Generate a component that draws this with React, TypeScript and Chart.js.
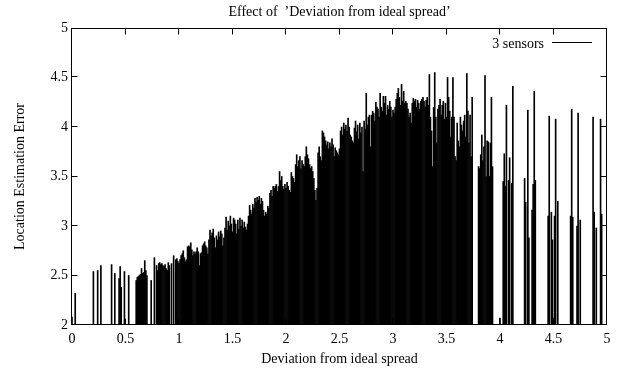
import React, { useEffect, useRef } from "react";
import { Chart, registerables } from "chart.js";

Chart.register(...registerables);

const chartTitle = "Effect of  \u2019Deviation from ideal spread\u2019";
const xAxisTitle = "Deviation from ideal spread";
const yAxisTitle = "Location Estimation Error";
const seriesLabel = "3 sensors";

const xTickValues = [0, 0.5, 1, 1.5, 2, 2.5, 3, 3.5, 4, 4.5, 5];
const xTickLabels = ["0", "0.5", "1", "1.5", "2", "2.5", "3", "3.5", "4", "4.5", "5"];
const yTickValues = [2, 2.5, 3, 3.5, 4, 4.5, 5];
const yTickLabels = ["2", "2.5", "3", "3.5", "4", "4.5", "5"];

// x positions of the impulses (deviation from ideal spread)
const deviation = [
  0.00, 0.03, 0.20, 0.24, 0.27, 0.37, 0.40, 0.44, 0.45, 0.46, 0.49, 0.53,
  0.60, 0.61, 0.62, 0.63, 0.64, 0.65, 0.66, 0.67, 0.68, 0.69, 0.70, 0.74, 0.77,
  0.79, 0.80, 0.81, 0.82, 0.83, 0.84, 0.85, 0.86, 0.87, 0.88, 0.89, 0.90, 0.91, 0.93, 0.95, 0.97, 0.98,
  0.99, 1.00, 1.01, 1.02, 1.03, 1.04, 1.05, 1.06, 1.07, 1.08,
  1.09, 1.10, 1.11, 1.12, 1.13, 1.14, 1.15, 1.16, 1.17, 1.18,
  1.19, 1.20, 1.21, 1.22, 1.23, 1.24, 1.25, 1.26, 1.27, 1.28,
  1.29, 1.30, 1.31, 1.32, 1.33, 1.34, 1.35, 1.36, 1.37, 1.38,
  1.39, 1.40, 1.41, 1.42, 1.43, 1.44, 1.45, 1.46, 1.47, 1.48,
  1.49, 1.50, 1.51, 1.52, 1.53, 1.54, 1.55, 1.56, 1.57, 1.58,
  1.59, 1.60, 1.61, 1.62, 1.63, 1.64, 1.65, 1.66, 1.67, 1.68,
  1.69, 1.70, 1.71, 1.72, 1.73, 1.74, 1.75, 1.76, 1.77, 1.78,
  1.79, 1.80, 1.81, 1.82, 1.83, 1.84, 1.85, 1.86, 1.87, 1.88,
  1.89, 1.90, 1.91, 1.92, 1.93, 1.94, 1.95, 1.96, 1.97, 1.98,
  1.99, 2.00, 2.01, 2.02, 2.03, 2.04, 2.05, 2.06, 2.07, 2.08,
  2.09, 2.10, 2.11, 2.12, 2.13, 2.14, 2.15, 2.16, 2.17, 2.18,
  2.19, 2.20, 2.21, 2.22, 2.23, 2.24, 2.25, 2.26, 2.27, 2.28,
  2.29, 2.30, 2.31, 2.32, 2.33, 2.34, 2.35, 2.36, 2.37, 2.38,
  2.39, 2.40, 2.41, 2.42, 2.43, 2.44, 2.45, 2.46, 2.47, 2.48,
  2.49, 2.50, 2.51, 2.52, 2.53, 2.54, 2.55, 2.56, 2.57, 2.58,
  2.59, 2.60, 2.61, 2.62, 2.63, 2.64, 2.65, 2.66, 2.67, 2.68,
  2.69, 2.70, 2.71, 2.72, 2.73, 2.74, 2.75, 2.76, 2.77, 2.78,
  2.79, 2.80, 2.81, 2.82, 2.83, 2.84, 2.85, 2.86, 2.87, 2.88,
  2.89, 2.90, 2.91, 2.92, 2.93, 2.94, 2.95, 2.96, 2.97, 2.98,
  2.99, 3.00, 3.01, 3.02, 3.03, 3.04, 3.05, 3.06, 3.07, 3.08,
  3.09, 3.10, 3.11, 3.12, 3.13, 3.14, 3.15, 3.16, 3.17, 3.18,
  3.19, 3.20, 3.21, 3.22, 3.23, 3.24, 3.25, 3.26, 3.27, 3.28,
  3.29, 3.30, 3.31, 3.32, 3.33, 3.34, 3.35, 3.36, 3.37, 3.38,
  3.39, 3.40, 3.41, 3.42, 3.43, 3.44, 3.45, 3.46, 3.47, 3.48,
  3.49, 3.50, 3.51, 3.52, 3.53, 3.54, 3.55, 3.56, 3.57, 3.58,
  3.59, 3.60, 3.61, 3.62, 3.63, 3.64, 3.65, 3.66, 3.67, 3.68,
  3.69, 3.70, 3.71, 3.72, 3.73, 3.74,
  3.80, 3.81, 3.82, 3.83, 3.84, 3.85, 3.86, 3.87, 3.88, 3.89, 3.90, 3.91, 3.92, 3.93,
  4.00, 4.03, 4.04, 4.05, 4.06, 4.08, 4.09, 4.11, 4.12,
  4.23, 4.24, 4.26, 4.27, 4.30, 4.31, 4.32, 4.33,
  4.45, 4.46, 4.48, 4.49, 4.50, 4.51, 4.52, 4.54,
  4.66, 4.67, 4.68, 4.72, 4.73, 4.75,
  4.87, 4.88, 4.90, 4.94, 4.95,
];

// impulse heights (location estimation error)
const locationError = [
  2.08, 2.32, 2.54, 2.55, 2.60, 2.61, 2.52, 2.47, 2.59, 2.38, 2.54, 2.50,
  2.45, 2.48, 2.49, 2.50, 2.51, 2.57, 2.52, 2.53, 2.65, 2.55, 2.50, 2.45, 2.68,
  2.60, 2.55, 2.62, 2.63, 2.61, 2.62, 2.60, 2.59, 2.61, 2.57, 2.55, 2.63, 2.60, 2.62, 2.70, 2.66, 2.67,
  2.64, 2.62, 2.66, 2.70, 2.72, 2.75, 2.68, 2.64, 2.66, 2.79,
  2.80, 2.79, 2.83, 2.76, 2.70, 2.74, 2.72, 2.74, 2.78, 2.74,
  2.60, 2.72, 2.73, 2.80, 2.82, 2.84, 2.80, 2.78, 2.72, 2.86,
  2.96, 2.90, 2.93, 2.97, 2.88, 2.78, 2.90, 2.86, 2.94, 2.89,
  2.95, 2.92, 2.80, 2.88, 2.98, 3.09, 2.96, 3.05, 3.00, 3.10,
  3.02, 2.94, 3.08, 3.06, 3.02, 2.92, 3.06, 2.97, 3.08, 3.00,
  3.06, 2.98, 3.04, 2.99, 2.96, 3.02, 3.10, 3.21, 3.16, 3.12,
  3.22, 3.18, 3.28, 3.24, 3.29, 3.26, 3.30, 3.22, 3.28, 3.25,
  3.16, 3.10, 3.14, 3.12, 3.20, 3.18, 3.33, 3.36, 3.30, 3.40,
  3.38, 3.40, 3.42, 3.35, 3.40, 3.55, 3.46, 3.50, 3.40, 3.37,
  3.42, 3.38, 3.44, 3.40, 3.36, 3.34, 3.54, 3.50, 3.48, 3.44,
  3.62, 3.72, 3.60, 3.66, 3.70, 3.58, 3.66, 3.62, 3.60, 3.70,
  3.80, 3.72, 3.68, 3.62, 3.58, 3.60, 3.55, 3.48, 3.36, 3.26,
  3.38, 3.74, 3.80, 3.70, 3.66, 3.96, 3.94, 3.90, 3.86, 3.82,
  3.85, 3.78, 3.84, 3.80, 3.88, 3.82, 3.70, 3.79, 3.76, 3.74,
  3.72, 3.78, 3.96, 4.00, 3.92, 4.04, 3.98, 4.02, 3.96, 4.09,
  4.00, 3.92, 3.90, 3.86, 3.84, 3.99, 4.06, 3.95, 4.02, 3.88,
  4.04, 3.94, 4.00, 3.55, 4.06, 3.98, 4.34, 4.02, 4.10, 4.12,
  3.80, 4.12, 4.16, 4.14, 4.06, 4.25, 4.20, 4.18, 4.10, 4.34,
  4.20, 4.16, 4.31, 4.24, 4.31, 4.12, 4.22, 4.18, 4.26, 4.20,
  4.10, 4.17, 4.14, 4.20, 4.28, 4.34, 4.39, 4.30, 4.22, 4.43,
  4.26, 4.36, 4.24, 4.26, 4.24, 4.18, 4.10, 4.14, 4.04, 4.24,
  4.29, 4.26, 4.28, 4.20, 4.27, 4.24, 4.18, 4.26, 4.28, 4.30,
  4.26, 4.20, 4.27, 4.30, 4.22, 4.53, 4.10, 3.96, 3.60, 4.20,
  4.55, 4.10, 3.84, 4.18, 4.22, 4.28, 4.12, 4.22, 4.26, 4.08,
  4.24, 4.10, 4.50, 4.30, 4.16, 3.90, 4.10, 4.50, 4.10, 3.70,
  3.66, 4.04, 3.86, 3.80, 4.10, 4.02, 3.96, 4.06, 4.12, 3.90,
  4.54, 4.16, 3.84, 4.12, 3.70, 4.30,
  3.60, 3.58, 3.72, 3.92, 3.66, 3.80, 4.52, 3.50, 3.86, 3.85, 3.50, 3.84, 4.30, 3.60,
  2.07, 3.45, 3.73, 3.40, 4.22, 3.46, 3.69, 3.43, 4.41,
  3.48, 3.24, 4.17, 2.88, 3.16, 3.42, 4.36, 3.46,
  3.10, 4.11, 3.14, 2.86, 2.07, 3.10, 4.08, 3.25,
  3.10, 4.18, 3.09, 3.00, 4.14, 3.06,
  4.10, 3.14, 2.98, 4.08, 3.12,
];

const FONT = "'Liberation Serif', 'Times New Roman', serif";

const framePlugin = {
  id: "gnuplotFrame",
  afterDatasetsDraw(chart: any) {
    const { ctx, chartArea: a, scales } = chart;
    ctx.save();
    ctx.strokeStyle = "#000";
    ctx.lineWidth = 1;
    const L = Math.round(a.left) - 0.5;
    const R = Math.round(a.right) - 0.5;
    const T = Math.round(a.top) + 0.5;
    const B = Math.round(a.bottom) - 0.5;
    ctx.strokeRect(L, T, R - L, B - T);
    const tl = 6;
    ctx.beginPath();
    xTickValues.forEach((v, i) => {
      if (i === 0 || i === xTickValues.length - 1) return;
      const p = Math.round(scales.x.getPixelForValue(v)) - 0.5;
      ctx.moveTo(p, B);
      ctx.lineTo(p, B - tl);
      ctx.moveTo(p, T);
      ctx.lineTo(p, T + tl);
    });
    yTickValues.forEach((v, i) => {
      if (i === 0 || i === yTickValues.length - 1) return;
      const p = Math.round(scales.y.getPixelForValue(v)) - 0.5;
      ctx.moveTo(L, p);
      ctx.lineTo(L + tl, p);
      ctx.moveTo(R, p);
      ctx.lineTo(R - tl, p);
    });
    ctx.stroke();
    // key
    ctx.font = "14px " + FONT;
    ctx.fillStyle = "#000";
    ctx.textAlign = "right";
    ctx.textBaseline = "alphabetic";
    ctx.fillText(seriesLabel, a.right - 63, a.top + 20);
    ctx.beginPath();
    ctx.moveTo(a.right - 55, a.top + 14.5);
    ctx.lineTo(a.right - 15, a.top + 14.5);
    ctx.stroke();
    ctx.restore();
  },
};

export default function App() {
  const ref = useRef<HTMLCanvasElement | null>(null);
  useEffect(() => {
    if (!ref.current) return;
    const points = deviation.map((x, i) => ({ x, y: [2, locationError[i]] }));
    const chart = new Chart(ref.current, {
      type: "bar",
      data: {
        datasets: [
          {
            label: seriesLabel,
            data: points as any,
            backgroundColor: "#000",
            borderWidth: 0,
            barThickness: 1,
            clip: 0,
          } as any,
        ],
      },
      options: {
        responsive: false,
        animation: false,
        events: [],
        layout: { padding: { left: 0, right: 24, top: 0, bottom: 0 } },
        plugins: {
          legend: { display: false },
          tooltip: { enabled: false },
          title: {
            display: true,
            text: chartTitle,
            color: "#000",
            fullSize: false,
            font: { family: FONT, size: 14, weight: "normal" },
            padding: { top: 4, bottom: 7.2 },
          },
        },
        scales: {
          x: {
            type: "linear",
            min: 0,
            max: 5,
            offset: false,
            grid: { display: false, drawTicks: false, offset: false },
            border: { display: false },
            afterFit: (s: any) => {
              s.height = 50;
            },
            afterBuildTicks: (s: any) => {
              s.ticks = xTickValues.map((v) => ({ value: v }));
            },
            ticks: {
              color: "#000",
              padding: 6,
              maxRotation: 0,
              autoSkip: false,
              font: { family: FONT, size: 14 },
              callback: (_v: any, i: number) => xTickLabels[i],
            },
            title: {
              display: true,
              text: xAxisTitle,
              color: "#000",
              font: { family: FONT, size: 14 },
              padding: { top: 0, bottom: 7.3 },
            },
          },
          y: {
            type: "linear",
            min: 2,
            max: 5,
            grid: { display: false, drawTicks: false },
            border: { display: false },
            afterFit: (s: any) => {
              s.width = 72;
            },
            afterBuildTicks: (s: any) => {
              s.ticks = yTickValues.map((v) => ({ value: v }));
            },
            ticks: {
              color: "#000",
              padding: 4,
              autoSkip: false,
              font: { family: FONT, size: 14 },
              callback: (_v: any, i: number) => yTickLabels[i],
            },
            title: {
              display: true,
              text: yAxisTitle,
              color: "#000",
              font: { family: FONT, size: 14 },
              padding: { top: 11.6, bottom: 0 },
            },
          },
        },
      },
      plugins: [framePlugin],
    } as any);
    return () => chart.destroy();
  }, []);
  return (
    <div style={{ position: "absolute", left: 0, top: 0, width: 631, height: 375, background: "#fff" }}>
      <canvas ref={ref} width={631} height={375} style={{ display: "block", width: 631, height: 375 }} />
    </div>
  );
}
